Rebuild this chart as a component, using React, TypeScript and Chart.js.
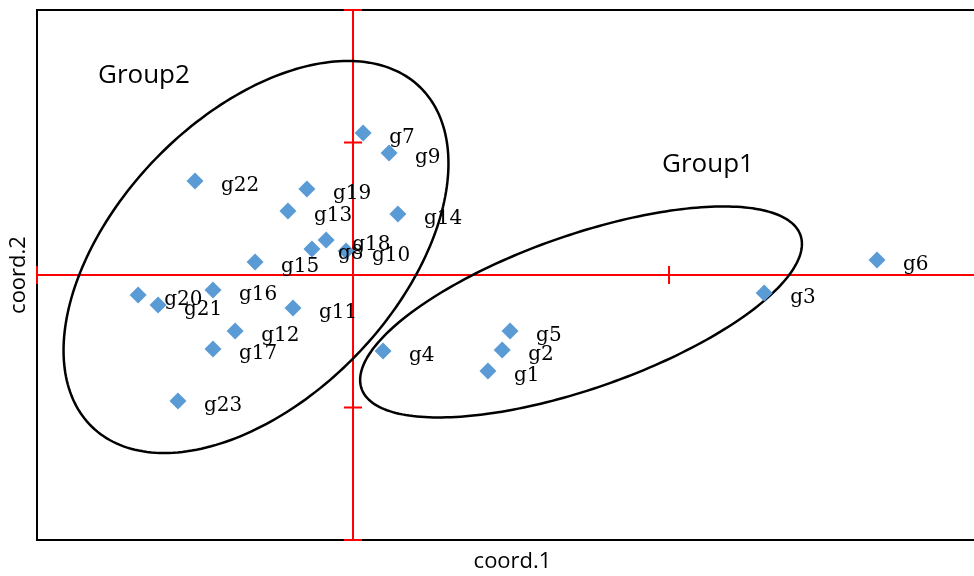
import React, { useEffect, useRef } from 'react';
import { Chart, registerables } from 'chart.js';

Chart.register(...registerables);

// ---- data ----
const pointNames = ['g1', 'g2', 'g3', 'g4', 'g5', 'g6', 'g7', 'g8', 'g9', 'g10', 'g11', 'g12', 'g13', 'g14', 'g15', 'g16', 'g17', 'g18', 'g19', 'g20', 'g21', 'g22', 'g23'];
const coord1 = [0.427, 0.472, 1.301, 0.095, 0.497, 1.658, 0.032, -0.130, 0.114, -0.022, -0.190, -0.373, -0.206, 0.142, -0.310, -0.443, -0.443, -0.085, -0.146, -0.680, -0.617, -0.500, -0.554];
const coord2 = [-0.725, -0.566, -0.136, -0.574, -0.423, 0.113, 1.072, 0.196, 0.921, 0.181, -0.249, -0.423, 0.483, 0.460, 0.098, -0.113, -0.558, 0.264, 0.649, -0.151, -0.226, 0.709, -0.951];

const xAxisTicks = [-1, 1];
const yAxisTicks = [-2, -1, 1, 2];
const xMin = -1;
const xMax = 1.965;
const yMin = -2;
const yMax = 2;

const xTitle = 'coord.1';
const yTitle = 'coord.2';

const groupNames = ['Group1', 'Group2'];
const groupLabelX = [0.978, -0.807];
const groupLabelY = [0.777, 1.449];

// ellipses: centre + two conjugate semi-axis vectors (data units)
const ellipseCX = [0.7215, -0.307];
const ellipseCY = [-0.279, 0.136];
const ellipseUX = [0.699, 0.609];
const ellipseUY = [0.513, 0.706];
const ellipseVX = [0, 0];
const ellipseVY = [-0.609, -1.3];

const overlayPlugin = {
  id: 'overlay',
  beforeDatasetsDraw(chart: any) {
    const { ctx, chartArea, scales } = chart;
    const xs = scales.x;
    const ys = scales.y;
    const { left, right, top, bottom } = chartArea;
    ctx.save();
    // frame
    ctx.strokeStyle = '#000000';
    ctx.lineWidth = 2;
    ctx.beginPath();
    ctx.moveTo(right, top);
    ctx.lineTo(left, top);
    ctx.lineTo(left, bottom);
    ctx.lineTo(right, bottom);
    ctx.stroke();

    // red axes through origin
    const x0 = xs.getPixelForValue(0);
    const y0 = ys.getPixelForValue(0);
    ctx.strokeStyle = '#FF0000';
    ctx.lineWidth = 2;
    ctx.beginPath();
    ctx.moveTo(left, y0);
    ctx.lineTo(right, y0);
    ctx.moveTo(x0, top);
    ctx.lineTo(x0, bottom);
    ctx.stroke();
    const tl = 9;
    ctx.beginPath();
    xAxisTicks.forEach((v) => {
      const px = xs.getPixelForValue(v);
      ctx.moveTo(px, y0 - tl);
      ctx.lineTo(px, y0 + tl);
    });
    yAxisTicks.forEach((v) => {
      const py = ys.getPixelForValue(v);
      ctx.moveTo(x0 - tl, py);
      ctx.lineTo(x0 + tl, py);
    });
    ctx.stroke();

    // ellipses
    ctx.strokeStyle = '#000000';
    ctx.lineWidth = 2.5;
    for (let e = 0; e < ellipseCX.length; e++) {
      ctx.beginPath();
      const n = 240;
      for (let k = 0; k <= n; k++) {
        const t = (k / n) * Math.PI * 2;
        const X = ellipseCX[e] + ellipseUX[e] * Math.cos(t) + ellipseVX[e] * Math.sin(t);
        const Y = ellipseCY[e] + ellipseUY[e] * Math.cos(t) + ellipseVY[e] * Math.sin(t);
        const px = xs.getPixelForValue(X);
        const py = ys.getPixelForValue(Y);
        if (k === 0) ctx.moveTo(px, py);
        else ctx.lineTo(px, py);
      }
      ctx.closePath();
      ctx.stroke();
    }
    ctx.restore();
  },
  afterDatasetsDraw(chart: any) {
    const { ctx, chartArea, scales } = chart;
    const xs = scales.x;
    const ys = scales.y;
    ctx.save();
    // point labels
    ctx.fillStyle = '#000000';
    ctx.font = '20px "DejaVu Serif", serif';
    ctx.textAlign = 'left';
    ctx.textBaseline = 'alphabetic';
    pointNames.forEach((name, i) => {
      const px = xs.getPixelForValue(coord1[i]);
      const py = ys.getPixelForValue(coord2[i]);
      ctx.fillText(name, px + 26, py + 10);
    });
    // group labels
    ctx.font = '26px "Open Sans", sans-serif';
    groupNames.forEach((name, i) => {
      ctx.fillText(name, xs.getPixelForValue(groupLabelX[i]), ys.getPixelForValue(groupLabelY[i]));
    });
    // axis titles
    ctx.font = '22px "Open Sans", sans-serif';
    ctx.textAlign = 'center';
    ctx.textBaseline = 'middle';
    ctx.fillText(xTitle, (chartArea.left + chartArea.right) / 2 + 7, chartArea.bottom + 22);
    ctx.translate(19, (chartArea.top + chartArea.bottom) / 2);
    ctx.rotate(-Math.PI / 2);
    ctx.fillText(yTitle, 0, 0);
    ctx.restore();
  },
};

export default function App() {
  const canvasRef = useRef<HTMLCanvasElement | null>(null);

  useEffect(() => {
    document.body.style.margin = '0';
    const canvas = canvasRef.current;
    if (!canvas) return;
    const chart = new Chart(canvas, {
      type: 'scatter',
      data: {
        datasets: [
          {
            data: coord1.map((x, i) => ({ x, y: coord2[i] })),
            pointStyle: 'rectRot',
            pointRadius: 8.5,
            pointHoverRadius: 8.5,
            backgroundColor: '#5B9BD5',
            borderColor: '#5B9BD5',
            borderWidth: 0,
          },
        ],
      },
      options: {
        animation: false,
        responsive: false,
        maintainAspectRatio: false,
        layout: { autoPadding: false, padding: { left: 37, top: 10, right: 0, bottom: 36 } },
        scales: {
          x: { type: 'linear', min: xMin, max: xMax, display: false },
          y: { type: 'linear', min: yMin, max: yMax, display: false },
        },
        plugins: {
          legend: { display: false },
          tooltip: { enabled: false },
        },
      },
      plugins: [overlayPlugin],
    });
    return () => chart.destroy();
  }, []);

  return (
    <div style={{ width: 974, height: 576, background: '#ffffff' }}>
      <canvas ref={canvasRef} width={974} height={576} style={{ display: 'block' }} />
    </div>
  );
}
